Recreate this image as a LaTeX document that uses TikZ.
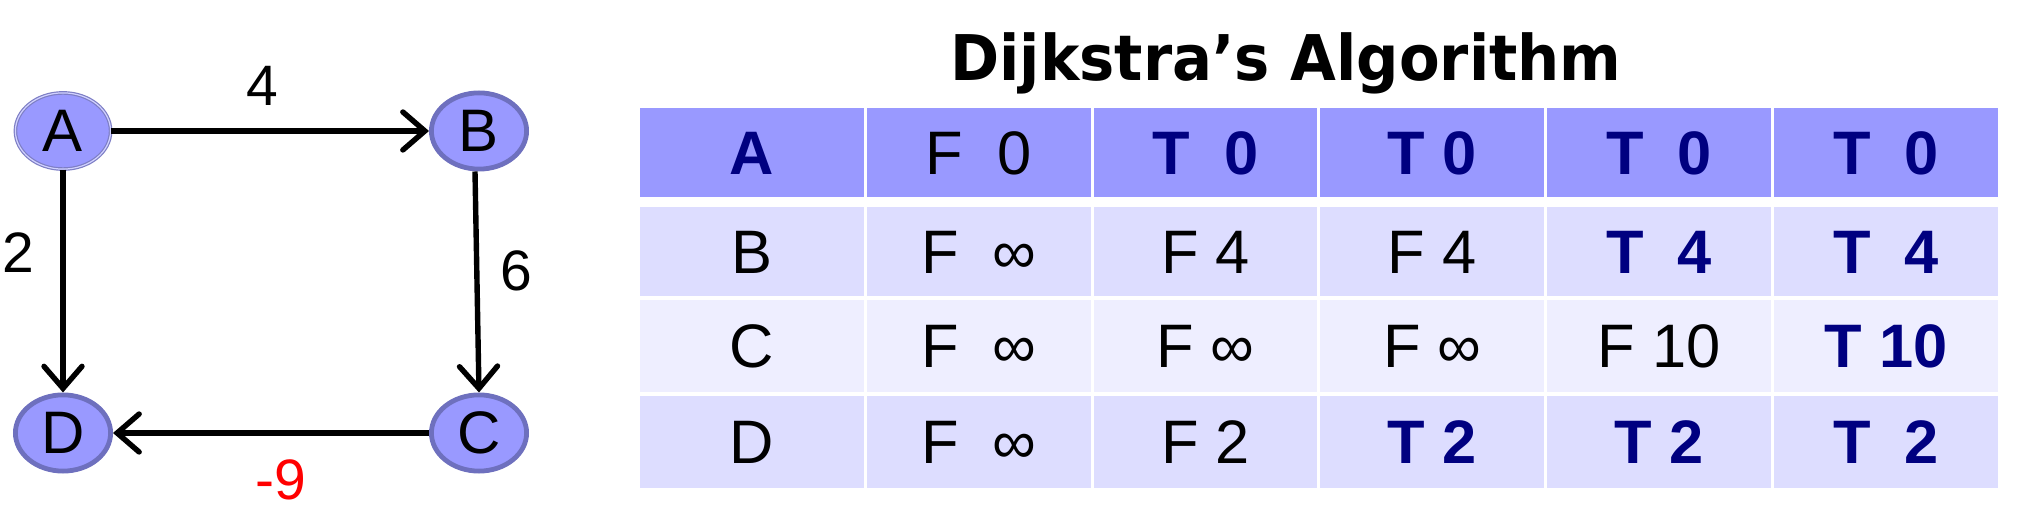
\documentclass[tikz,border=0pt]{standalone}
\usepackage{fontspec}
\setmainfont{Liberation Sans}
\newfontfamily\titlefont{DejaVu Sans}
\usetikzlibrary{arrows.meta,shapes.geometric,calc}
\definecolor{headfill}{HTML}{9999FF}
\definecolor{rowa}{HTML}{DDDDFF}
\definecolor{rowb}{HTML}{EEEEFF}
\definecolor{navy}{HTML}{000080}
\definecolor{nodeborder}{HTML}{6E70BE}
\definecolor{vred}{HTML}{FF0000}
\begin{document}
\begin{tikzpicture}[x=0.5pt,y=-0.5pt,
  vertex/.style={ellipse, fill=headfill, draw=nodeborder, line width=2.4pt,
    minimum width=47.6pt, minimum height=38.1pt, inner sep=0pt,
    font=\fontsize{30}{36}\selectfont},
  vertexA/.style={vertex, draw=nodeborder!90, line width=0.6pt,
    double=headfill!45, double distance=0.6pt},
  edge/.style={line width=2.7pt, line cap=butt,
    -{Straight Barb[length=11pt,width=19pt,line cap=round]}},
  wlabel/.style={inner sep=0pt, font=\fontsize{28.5}{34}\selectfont},
  tf/.style={anchor=base, inner sep=0pt, font=\fontsize{30.7}{36}\selectfont},
  tt/.style={anchor=base, inner sep=0pt, text=navy, font=\fontsize{30.7}{36}\selectfont\bfseries}]
\useasboundingbox (0,0) rectangle (2022,512);

% graph
\node[vertexA] (A) at (63,131) {A};
\node[vertex] (B) at (479,131) {B};
\node[vertex] (C) at (479,433) {C};
\node[vertex] (D) at (63,433) {D};
\draw[edge] (A) -- (B);
\draw[edge] (A) -- (D);
\draw[edge] ($(B.south)+(-4,0)$) -- (C.north);
\draw[edge] (C) -- (D);
\node[wlabel] (l4) at (262,86) {4};
\node[wlabel] (l2) at (18,253) {2};
\node[wlabel] (l6) at (516,271) {6};
\node[wlabel, text=vred] (l9) at (281,480) {-9};

% title
\node[anchor=base, inner sep=0pt] (title) at (1286,81)
  {\scalebox{0.94}[1]{\titlefont\bfseries\fontsize{31.5}{38}\selectfont Dijkstra’s Algorithm}};

% table backgrounds
\foreach \i in {0,...,5} {
  \fill[headfill] ({640+226.8*\i},108) rectangle ({863.8+226.8*\i},197);
  \fill[rowa] ({640+226.8*\i},207) rectangle ({863.8+226.8*\i},296);
  \fill[rowb] ({640+226.8*\i},300) rectangle ({863.8+226.8*\i},392);
  \fill[rowa] ({640+226.8*\i},396) rectangle ({863.8+226.8*\i},488);
}

% header row
\node[tt] (h1) at (751.9,174.5) {A};
\node[tf] (h2) at (978.7,174.5) {F~~0};
\node[tt] (h3) at (1205.5,174.5) {T~~0};
\node[tt] (h4) at (1432.3,174.5) {T~0};
\node[tt] (h5) at (1659.1,174.5) {T~~0};
\node[tt] (h6) at (1885.9,174.5) {T~~0};

% row B
\node[tf] (b1) at (751.9,273.5) {B};
\node[tf] (b2) at (978.7,273.5) {F~~∞};
\node[tf] (b3) at (1205.5,273.5) {F~4};
\node[tf] (b4) at (1432.3,273.5) {F~4};
\node[tt] (b5) at (1659.1,273.5) {T~~4};
\node[tt] (b6) at (1885.9,273.5) {T~~4};

% row C
\node[tf] (c1) at (751.9,368) {C};
\node[tf] (c2) at (978.7,368) {F~~∞};
\node[tf] (c3) at (1205.5,368) {F~∞};
\node[tf] (c4) at (1432.3,368) {F~∞};
\node[tf] (c5) at (1659.1,368) {F~10};
\node[tt] (c6) at (1885.9,368) {T~10};

% row D
\node[tf] (d1) at (751.9,464) {D};
\node[tf] (d2) at (978.7,464) {F~~∞};
\node[tf] (d3) at (1205.5,464) {F~2};
\node[tt] (d4) at (1432.3,464) {T~2};
\node[tt] (d5) at (1659.1,464) {T~2};
\node[tt] (d6) at (1885.9,464) {T~~2};
\end{tikzpicture}
\end{document}
